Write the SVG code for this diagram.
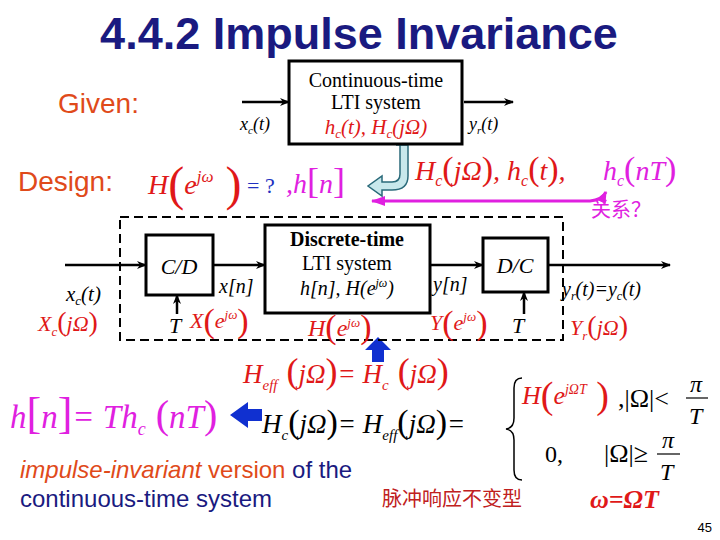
<svg xmlns="http://www.w3.org/2000/svg" width="720" height="540" viewBox="0 0 720 540">
<defs>
<marker id="ah" markerWidth="10" markerHeight="8" refX="9" refY="4" orient="auto" markerUnits="userSpaceOnUse"><path d="M0,0 L10,4 L0,8 L3,4 Z" fill="#000"/></marker>
<marker id="mh" markerWidth="14" markerHeight="10" refX="1" refY="5" orient="auto" markerUnits="userSpaceOnUse"><path d="M14,0 L0,5 L14,10 Z" fill="#e020e0"/></marker>
<marker id="mh2" markerWidth="12" markerHeight="10" refX="11" refY="5" orient="auto" markerUnits="userSpaceOnUse"><path d="M0,0 L12,5 L0,10 Z" fill="#e020e0"/></marker>
<style>
.s{font-family:"Liberation Sans",Arial,sans-serif}
.m{font-family:"Liberation Serif","Times New Roman",serif;font-style:italic}
.r{font-family:"Liberation Serif","Times New Roman",serif}
.box{fill:#fff;stroke:#000;stroke-width:3}
.ln{stroke:#000;stroke-width:2.5;fill:none}
.red{fill:#e01818}
.mag{fill:#e020e0}
</style>
</defs>
<text x="359" y="49" text-anchor="middle" class="s" font-size="45" font-weight="bold" fill="#1a1a80">4.4.2 Impulse Invariance</text>
<text x="58" y="113" class="s" font-size="28" fill="#e04a1a">Given:</text>
<text x="18" y="191" class="s" font-size="28" fill="#e04a1a">Design:</text>

<g id="connectors">
<line x1="242" y1="102" x2="289" y2="102" class="ln" marker-end="url(#ah)"/>
<line x1="464" y1="102" x2="513" y2="102" class="ln" marker-end="url(#ah)"/>
<line x1="65" y1="265" x2="146" y2="265" class="ln" marker-end="url(#ah)"/>
<line x1="213" y1="265" x2="265" y2="265" class="ln" marker-end="url(#ah)"/>
<line x1="430" y1="265" x2="483" y2="265" class="ln" marker-end="url(#ah)"/>
<line x1="548" y1="265" x2="670" y2="265" class="ln" marker-end="url(#ah)"/>
<line x1="177" y1="314" x2="177" y2="295" class="ln" marker-end="url(#ah)"/>
<line x1="524" y1="314" x2="524" y2="292" class="ln" marker-end="url(#ah)"/>
<path d="M372,201 L590,201 Q602,200 606,192" stroke="#e020e0" stroke-width="3" fill="none" marker-start="url(#mh)" marker-end="url(#mh2)"/>
<path d="M396,145 L408,145 L408,176 Q408,190 392,190 L382,190 L382,196 L368,186 L382,176 L382,182 L392,182 Q400,182 400,174 L400,145 Z" fill="#c8e8ec" stroke="#2a6a7a" stroke-width="1.5"/>
<path d="M372,362 L372,350 L365,350 L378,337 L391,350 L384,350 L384,362 Z" fill="#1030d0"/>
<path d="M262,409 L248,409 L248,402 L230,415 L248,428 L248,421 L262,421 Z" fill="#1030d0"/>
<rect x="120" y="217" width="443" height="123" fill="none" stroke="#000" stroke-width="2" stroke-dasharray="9,5"/>
</g>

<g id="ct-system">
<rect x="289" y="61" width="173" height="83" class="box" stroke-width="2.5"/>
<text x="376" y="87" text-anchor="middle" class="r" font-size="20">Continuous-time</text>
<text x="376" y="109" text-anchor="middle" class="r" font-size="20">LTI system</text>
<text x="376" y="134" text-anchor="middle" class="m red" font-size="21">h<tspan font-size="13" dy="4">c</tspan><tspan dy="-4">(t), H</tspan><tspan font-size="13" dy="4">c</tspan><tspan dy="-4">(jΩ)</tspan></text>
<text x="240" y="130" class="m" font-size="18">x<tspan font-size="11" dy="4">c</tspan><tspan dy="-4">(t)</tspan></text>
<text x="469" y="130" class="m" font-size="18">y<tspan font-size="11" dy="4">r</tspan><tspan dy="-4">(t)</tspan></text>
</g>

<g id="design">
<text x="148" y="194" class="m red" font-size="28">H<tspan class="r" font-style="normal" font-size="48" dy="6">(</tspan><tspan dy="-6">e</tspan><tspan font-size="17" dy="-12">jω</tspan><tspan class="r" font-style="normal" font-size="48" dy="18"> )</tspan></text>
<text x="247" y="193" class="r" font-size="22" fill="#2030c0">= ?</text>
<text x="286" y="193" class="m mag" font-size="28">,h<tspan class="r" font-style="normal" font-size="36">[</tspan>n<tspan class="r" font-style="normal" font-size="36">]</tspan></text>
<text x="415" y="180" class="m red" font-size="28">H<tspan font-size="16" dy="6">c</tspan><tspan class="r" font-style="normal" font-size="34" dy="-6">(</tspan>jΩ<tspan class="r" font-style="normal" font-size="34">)</tspan>, h<tspan font-size="16" dy="6">c</tspan><tspan class="r" font-style="normal" font-size="34" dy="-6">(</tspan>t<tspan class="r" font-style="normal" font-size="34">)</tspan>,</text>
<text x="603" y="180" class="m mag" font-size="28">h<tspan font-size="16" dy="6">c</tspan><tspan class="r" font-style="normal" font-size="34" dy="-6">(</tspan>nT<tspan class="r" font-style="normal" font-size="34">)</tspan></text>
<text x="591" y="217" font-family="'Noto Sans CJK SC',sans-serif" font-size="20" fill="#e020e0">关系？</text>
</g>

<g id="cd">
<rect x="146" y="235" width="67" height="60" class="box"/>
<text x="179" y="274" text-anchor="middle" class="m" font-size="22">C/D</text>
</g>
<g id="dt-system">
<rect x="265" y="225" width="165" height="88" class="box"/>
<text x="347" y="246" text-anchor="middle" class="r" font-size="20" font-weight="bold">Discrete-time</text>
<text x="347" y="270" text-anchor="middle" class="r" font-size="20">LTI system</text>
<text x="347" y="295" text-anchor="middle" class="m" font-size="20">h[n], H(e<tspan font-size="12" dy="-8">jω</tspan><tspan dy="8">)</tspan></text>
</g>
<g id="dc">
<rect x="483" y="238" width="65" height="54" class="box"/>
<text x="515" y="273" text-anchor="middle" class="m" font-size="22">D/C</text>
</g>

<g id="labels">
<text x="66" y="301" class="m" font-size="21">x<tspan font-size="13" dy="4">c</tspan><tspan dy="-4">(t)</tspan></text>
<text x="38" y="331" class="m red" font-size="22">X<tspan font-size="13" dy="5">c</tspan><tspan class="r" font-style="normal" font-size="28" dy="-5">(</tspan>jΩ<tspan class="r" font-style="normal" font-size="28">)</tspan></text>
<text x="219" y="293" class="m" font-size="20">x[n]</text>
<text x="169" y="333" class="m" font-size="22">T</text>
<text x="190" y="328" class="m red" font-size="22">X<tspan class="r" font-style="normal" font-size="34" dy="4">(</tspan><tspan dy="-4">e</tspan><tspan font-size="13" dy="-9">jω</tspan><tspan class="r" font-style="normal" font-size="34" dy="13">)</tspan></text>
<text x="308" y="336" class="m red" font-size="24">H<tspan class="r" font-style="normal" font-size="34" dy="2">(</tspan><tspan dy="-2">e</tspan><tspan font-size="13" dy="-9">jω</tspan><tspan class="r" font-style="normal" font-size="34" dy="11">)</tspan></text>
<text x="433" y="291" class="m" font-size="20">y[n]</text>
<text x="430" y="330" class="m red" font-size="22">Y<tspan class="r" font-style="normal" font-size="34" dy="4">(</tspan><tspan dy="-4">e</tspan><tspan font-size="13" dy="-9">jω</tspan><tspan class="r" font-style="normal" font-size="34" dy="13">)</tspan></text>
<text x="512" y="333" class="m" font-size="22">T</text>
<text x="562" y="296" class="m" font-size="20">y<tspan font-size="12" dy="4">r</tspan><tspan dy="-4">(t)=y</tspan><tspan font-size="12" dy="4">c</tspan><tspan dy="-4">(t)</tspan></text>
<text x="570" y="335" class="m red" font-size="22">Y<tspan font-size="13" dy="5">r</tspan><tspan class="r" font-style="normal" font-size="28" dy="-5">(</tspan>jΩ<tspan class="r" font-style="normal" font-size="28">)</tspan></text>
</g>

<g id="equations">
<text x="243" y="383" class="m red" font-size="27">H<tspan font-size="15" dy="7">eff</tspan><tspan class="r" font-style="normal" font-size="36" dy="-7"> (</tspan>jΩ<tspan class="r" font-style="normal" font-size="36">)</tspan>= H<tspan font-size="15" dy="7">c</tspan><tspan class="r" font-style="normal" font-size="36" dy="-7"> (</tspan>jΩ<tspan class="r" font-style="normal" font-size="36">)</tspan></text>
<text x="10" y="428" class="m mag" font-size="33">h<tspan class="r" font-style="normal" font-size="44">[</tspan>n<tspan class="r" font-style="normal" font-size="44">]</tspan>= Th<tspan font-size="18" dy="7">c</tspan><tspan class="r" font-style="normal" font-size="40" dy="-7"> (</tspan>nT<tspan class="r" font-style="normal" font-size="40">)</tspan></text>
<text x="262" y="433" class="m" font-size="27">H<tspan font-size="15" dy="7">c</tspan><tspan class="r" font-style="normal" font-size="34" dy="-7">(</tspan>jΩ<tspan class="r" font-style="normal" font-size="34">)</tspan>= H<tspan font-size="15" dy="7">eff</tspan><tspan class="r" font-style="normal" font-size="34" dy="-7">(</tspan>jΩ<tspan class="r" font-style="normal" font-size="34">)</tspan>=</text>
<path d="M522,378 Q514,378 514,388 L514,418 Q514,428 506,429 Q514,430 514,440 L514,470 Q514,480 522,480" fill="none" stroke="#000" stroke-width="1.5"/>
<text x="522" y="404" class="m red" font-size="26">H<tspan class="r" font-style="normal" font-size="38" dy="4">(</tspan><tspan dy="-4">e</tspan><tspan font-size="14" dy="-10">jΩT</tspan><tspan class="r" font-style="normal" font-size="38" dy="14"> )</tspan></text>
<text x="618" y="407" class="r" font-size="26">,|Ω|&lt;</text>
<text x="690" y="392" class="m" font-size="24">π</text>
<line x1="686" y1="398" x2="708" y2="398" stroke="#000" stroke-width="1.2"/>
<text x="689" y="424" class="m" font-size="24">T</text>
<text x="545" y="462" class="r" font-size="24">0,</text>
<text x="604" y="462" class="r" font-size="26">|Ω|≥</text>
<text x="662" y="448" class="m" font-size="24">π</text>
<line x1="657" y1="454" x2="680" y2="454" stroke="#000" stroke-width="1.2"/>
<text x="660" y="480" class="m" font-size="24">T</text>
</g>

<text x="20" y="478" class="s" font-size="24"><tspan font-style="italic" fill="#e04a1a">impulse-invariant</tspan><tspan fill="#e04a1a"> version</tspan><tspan fill="#1a1a80"> of the</tspan></text>
<text x="20" y="507" class="s" font-size="24" fill="#1a1a80">continuous-time system</text>
<text x="382" y="506" font-family="'Noto Sans CJK SC',sans-serif" font-size="20" fill="#c02020">脉冲响应不变型</text>
<text x="590" y="508" class="m red" font-size="26" font-weight="bold">ω=ΩT</text>
<text x="712" y="532" text-anchor="end" class="s" font-size="13">45</text>
</svg>
